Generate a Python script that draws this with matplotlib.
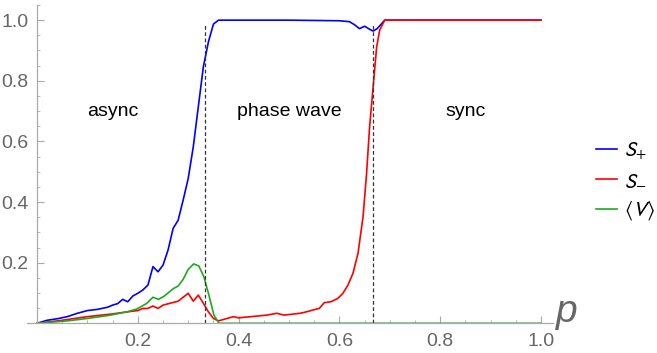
import matplotlib
matplotlib.use("Agg")
import matplotlib.pyplot as plt
from matplotlib.ticker import MultipleLocator, FixedLocator

plt.rcParams['font.family'] = ['Liberation Sans', 'DejaVu Sans']
plt.rcParams['mathtext.fontset'] = 'stixsans'

# S+ curve
p_plus = [0, .02, .04, .06, .08, .10, .12, .14, .15, .16, .17, .18, .19, .20, .21, .22,
          .23, .24, .25, .26, .27, .28, .29, .30, .31, .32, .33, .34, .35, .36, .40, .50,
          .60, .62, .63, .64, .65, .66, .667, .675, .69, .70, 1.0]
s_plus = [0, .01, .015, .022, .033, .042, .046, .053, .06, .065, .079, .071, .09, .099, .11, .126,
          .187, .17, .192, .242, .313, .34, .407, .478, .582, .714, .846, .928, .987, 1.0, 1.0, 1.0,
          .998, .995, .985, .972, .98, .97, .964, .972, 1.0, 1.0, 1.0]

# S- curve
p_minus = [0, .05, .10, .15, .18, .20, .21, .22, .23, .24, .25, .28, .30, .31, .32, .33, .34,
           .35, .36, .39, .40, .456, .476, .49, .522, .535, .548, .56, .57, .583, .597, .607,
           .617, .627, .637, .647, .654, .66, .667, .674, .68, .69, 1.0]
s_minus = [0, .01, .022, .031, .038, .042, .049, .049, .057, .049, .06, .073, .099, .073, .093, .066, .038,
           .016, .008, .022, .018, .027, .033, .027, .033, .038, .044, .049, .068, .071, .082, .099,
           .126, .165, .231, .352, .495, .648, .78, .912, .967, 1.0, 1.0]

# <V> curve
p_v = [0, .06, .10, .146, .179, .198, .218, .23, .241, .251, .271, .28, .29, .30, .311, .321,
       .331, .341, .351, .361, 1.0]
v_mean = [0, .008, .016, .027, .038, .047, .066, .086, .079, .088, .115, .123, .145, .178, .196, .189,
          .154, .093, .027, 0, 0]

boundaries = [1 / 3, 2 / 3]
regions = ["async", "phase wave", "sync"]
region_x = [0.15, 0.5, 0.85]

fig = plt.figure(figsize=(6.57, 3.53), dpi=100)
ax = fig.add_axes([27 / 657, (353 - 323.3) / 353, (553 - 27) / 657, (323.3 - 5) / 353])

ax.plot(p_plus, s_plus, color='#0000ff', lw=1.2, label=r'$S_{+}$')
ax.plot(p_minus, s_minus, color='#ff0000', lw=1.2, label=r'$S_{-}$')
ax.plot(p_v, v_mean, color='#1fa81f', lw=1.2, label=r'$\langle V\rangle$')

for b in boundaries:
    ax.vlines(b, 0, 0.99, colors='#333333', linestyles=(0, (3, 2)), lw=0.9)

for name, xr in zip(regions, region_x):
    ax.text(xr, 0.7, name, ha='center', va='center', fontsize=14, color='black')

ax.set_xlim(-0.02, 1.024)
ax.set_ylim(0, 1.05)
ax.spines['left'].set_position(('data', 0))
ax.spines['right'].set_visible(False)
ax.spines['top'].set_visible(False)
for s in ['left', 'bottom']:
    ax.spines[s].set_color('#aaaaaa')
    ax.spines[s].set_linewidth(0.9)

ax.xaxis.set_major_locator(FixedLocator([0.2, 0.4, 0.6, 0.8, 1.0]))
ax.xaxis.set_minor_locator(FixedLocator([0.05 * i for i in range(1, 20)]))
ax.yaxis.set_major_locator(FixedLocator([0.2, 0.4, 0.6, 0.8, 1.0]))
ax.yaxis.set_minor_locator(MultipleLocator(0.05))
ax.tick_params(which='both', direction='in', color='#aaaaaa', labelcolor='#666666',
               labelsize=14)
ax.tick_params(which='major', length=5, width=0.8)
ax.tick_params(which='minor', length=2.5, width=0.6)
ax.tick_params(axis='y', pad=6)
ax.tick_params(axis='x', pad=7)

fig.text(556 / 657, (353 - 322) / 353, 'p', fontsize=28, style='italic', color='#666666',
         ha='left', va='baseline')

fig.legend(loc='center left', bbox_to_anchor=(577 / 657, 1 - 181 / 353), frameon=False,
           fontsize=15, handlelength=1.0, handletextpad=0.35, labelspacing=0.45)

fig.savefig('out.png', dpi=100)
